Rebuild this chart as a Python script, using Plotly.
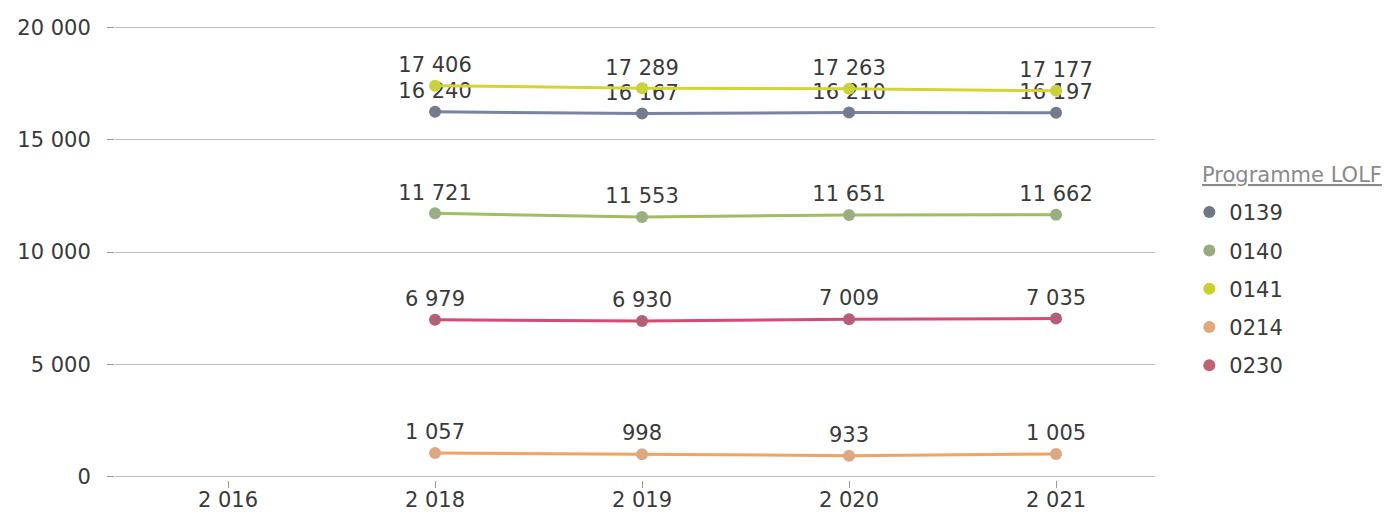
import plotly.graph_objects as go

categories = ["2 016", "2 018", "2 019", "2 020", "2 021"]
years = ["2 018", "2 019", "2 020", "2 021"]

series_names = ["0139", "0140", "0141", "0214", "0230"]
v0139 = [16240, 16167, 16210, 16197]
v0140 = [11721, 11553, 11651, 11662]
v0141 = [17406, 17289, 17263, 17177]
v0214 = [1057, 998, 933, 1005]
v0230 = [6979, 6930, 7009, 7035]
values = [v0139, v0140, v0141, v0214, v0230]
legend_title = "Programme LOLF"

line_colors = ["#7884a6", "#9fbe5e", "#d6d434", "#f4a261", "#d64a74"]
marker_colors = ["#737b8c", "#9aae84", "#c9d23c", "#dca882", "#b35f74"]
legend_colors = ["#6f7784", "#98ac80", "#c8d030", "#e0a878", "#c06070"]

FONT = "DejaVu Sans"
TXT = "#3a3a3a"

fig = go.Figure()
for name, vals, lc, mc in zip(series_names, values, line_colors, marker_colors):
    fig.add_trace(go.Scatter(
        x=years, y=vals, name=name, mode="lines+markers+text",
        line=dict(color=lc, width=3),
        marker=dict(color=mc, size=12),
        text=vals, texttemplate="%{y:,d}", textposition="top center",
        textfont=dict(family=FONT, size=21, color=TXT),
        legendgroup=name, showlegend=False,
        cliponaxis=False,
    ))
# legend entries (markers only)
for name, c in zip(series_names, legend_colors):
    fig.add_trace(go.Scatter(
        x=[None], y=[None], name=name, mode="markers",
        marker=dict(color=c, size=12),
        legendgroup=name, showlegend=True,
    ))

fig.add_annotation(
    text="<u>" + legend_title + "</u>", xref="paper", yref="paper",
    x=1.043, y=0.669, xanchor="left", yanchor="middle", showarrow=False,
    font=dict(family=FONT, size=21, color="#8a8a8a"),
)

fig.update_layout(
    width=1388, height=507,
    margin=dict(l=107, r=241, t=16, b=35, autoexpand=False),
    paper_bgcolor="white", plot_bgcolor="white",
    separators=", ",
    font=dict(family=FONT, size=21, color=TXT),
    showlegend=True,
    legend=dict(
        x=1.033, y=0.419, xanchor="left", yanchor="middle",
        font=dict(family=FONT, size=21, color=TXT),
        tracegroupgap=8, itemsizing="constant", itemwidth=30,
    ),
    xaxis=dict(
        type="category", categoryorder="array", categoryarray=categories,
        tickmode="array", tickvals=categories, ticktext=categories,
        range=[-0.546, 4.478],
        showgrid=False, zeroline=False, showline=False,
        ticks="outside", ticklen=7, tickcolor="#999999",
        ticklabelstandoff=-6,
        tickfont=dict(family=FONT, size=21, color=TXT),
    ),
    yaxis=dict(
        range=[-150, 20150], tickvals=[0, 5000, 10000, 15000, 20000],
        tickformat=",d",
        showgrid=True, gridcolor="#bdbdbd", gridwidth=1,
        zeroline=False, showline=False,
        ticks="outside", ticklen=7, tickcolor="#999999",
        ticklabelstandoff=12,
        tickfont=dict(family=FONT, size=21, color=TXT),
    ),
)

fig.write_html("out.html")
